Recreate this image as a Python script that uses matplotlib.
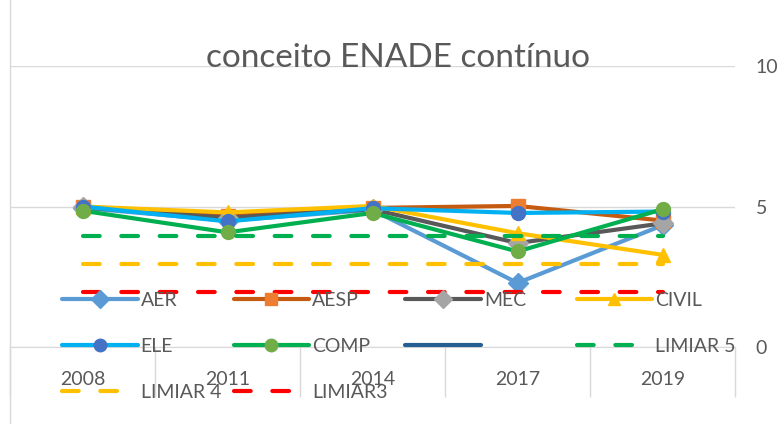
import matplotlib
matplotlib.use('Agg')
import matplotlib.pyplot as plt
from matplotlib.lines import Line2D
import numpy as np

plt.rcParams['font.family'] = ['Lato', 'DejaVu Sans']

# data
years = ['2008', '2011', '2014', '2017', '2019']
aer = [4.95, 4.50, 4.88, 2.28, 4.33]
aesp = [5.00, 4.65, 4.95, 5.02, 4.50]
mec = [4.97, 4.60, 4.90, 3.70, 4.40]
civil = [5.00, 4.79, 5.02, 4.05, 3.28]
ele = [5.00, 4.47, 4.94, 4.77, 4.82]
comp = [4.85, 4.08, 4.77, 3.40, 4.90]
blank = [np.nan, np.nan, np.nan, np.nan, np.nan]
limiar5 = [3.945, 3.945, 3.945, 3.945, 3.945]
limiar4 = [2.945, 2.945, 2.945, 2.945, 2.945]
limiar3 = [1.945, 1.945, 1.945, 1.945, 1.945]

# (label, values, line colour, marker, marker colour, dashed)
series = [
    ('AER', aer, '#5B9BD5', 'D', '#5B9BD5', False),
    ('AESP', aesp, '#C55A11', 's', '#ED7D31', False),
    ('MEC', mec, '#595959', 'D', '#A5A5A5', False),
    ('CIVIL', civil, '#FFC000', '^', '#FFC000', False),
    ('ELE', ele, '#00B0F0', 'o', '#4472C4', False),
    ('COMP', comp, '#00B050', 'o', '#70AD47', False),
    ('', blank, '#255E91', None, None, False),
    ('LIMIAR 5', limiar5, '#00B050', None, None, True),
    ('LIMIAR 4', limiar4, '#FFC000', None, None, True),
    ('LIMIAR3', limiar3, '#FF0000', None, None, True),
]

grey = '#595959'
fig = plt.figure(figsize=(7.84, 4.24), dpi=100)
ax = fig.add_axes([10 / 784, 77 / 424, 725 / 784, 281 / 424])
x = np.arange(len(years))

handles = []
for label, vals, lc, mk, mc, dashed in series:
    if dashed:
        ln, = ax.plot(x, vals, color=lc, lw=3, dashes=(4, 5.2),
                      dash_capstyle='round')
    else:
        ln, = ax.plot(x, vals, color=lc, lw=3, marker=mk, ms=10,
                      mfc=mc, mec=mc, solid_joinstyle='round',
                      solid_capstyle='round')
    handles.append((ln, label))

ax.set_xlim(-0.5, 4.5)
ax.set_ylim(0, 10)
ax.yaxis.tick_right()
ax.set_yticks([0, 5, 10])
ax.tick_params(axis='y', length=0, pad=15, labelsize=14, labelcolor=grey)
ax.grid(axis='y', color='#D9D9D9', lw=1)
ax.set_axisbelow(True)
for s in ['top', 'left', 'right']:
    ax.spines[s].set_visible(False)
ax.spines['bottom'].set_color('#D9D9D9')

ax.set_xticks(x)
ax.set_xticklabels(years)
ax.set_xticks(np.arange(-0.5, 5, 1), minor=True)
ax.tick_params(axis='x', which='major', length=0, pad=17, labelsize=14,
               labelcolor=grey)
ax.tick_params(axis='x', which='minor', length=36, width=1, color='#D9D9D9')

# chart frame line on the left
fig.add_artist(Line2D([10 / 784, 10 / 784], [0, 1], transform=fig.transFigure,
                      color='#D9D9D9', lw=1))

fig.text(398 / 784, 1 - 58 / 424, 'conceito ENADE contínuo', ha='center',
         va='center', fontsize=24, color=grey)

# legend laid out on a fixed grid like the original
x0, dx = 62 / 784, 171.5 / 784
y0, dy = 1 - 300 / 424, 46 / 424
for i, (ln, label) in enumerate(handles):
    col, row = i % 4, i // 4
    leg = fig.legend([ln], [label], loc='center left',
                     bbox_to_anchor=(x0 + col * dx, y0 - row * dy),
                     frameon=False, borderpad=0, borderaxespad=0,
                     handlelength=3.9, handletextpad=0.15, fontsize=14,
                     markerscale=0.9, labelcolor=grey)

fig.savefig('out.png', dpi=100)
